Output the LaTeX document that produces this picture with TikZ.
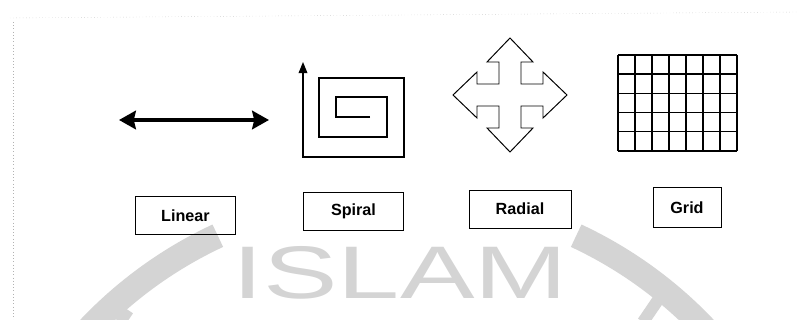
\documentclass[tikz,border=0pt]{standalone}
\usepackage{fontspec}
\setmainfont{Liberation Sans}
\usepackage{tikz}
\usetikzlibrary{arrows.meta, positioning}

\begin{document}
\begin{tikzpicture}[
    x=0.025cm, y=-0.025cm,
    tag/.style={rectangle, draw=black, line width=0.6pt, inner sep=0pt, text centered, font=\fontsize{11.5}{13}\selectfont\bfseries},
    bigarrow/.style={line width=2.8pt, {Stealth[length=0.42cm,width=0.46cm,inset=0.05cm]}-{Stealth[length=0.42cm,width=0.46cm,inset=0.05cm]}},
    spiralline/.style={line width=0.8pt, line join=miter, -{Triangle[length=0.28cm,width=0.22cm]}},
    outline/.style={line width=0.7pt, line join=miter},
    gridline/.style={line width=1pt},
    watermark/.style={black!17},
    scanedge/.style={black!30, line width=0.3pt, dotted}
]
\useasboundingbox (0,0) rectangle (798,320);

% Page edge of the scan
\draw [scanedge] (10,18) -- (798,12);
\draw [scanedge] (13,22) -- (13,320);

% Watermark
\node (wmtext) [watermark, xscale=1.5, font=\fontsize{53}{60}\selectfont] at (400,273) {ISLAM};
\draw [watermark, line width=0.62cm] (397,620) ++(222:424) arc[start angle=222, end angle=245, radius=424];
\draw [watermark, line width=0.62cm] (397,620) ++(318:424) arc[start angle=318, end angle=295, radius=424];
\draw [watermark, line width=0.3cm] (120,322) -- (128,310);
\draw [watermark, line width=0.3cm] (643,322) -- (660,297);

% Linear
\coordinate (linL) at (119,120);
\coordinate (linR) at (269,120);
\draw [bigarrow] (linL) -- (linR);

% Spiral
\coordinate (spin) at (370,117);
\coordinate (spout) at (303,62);
\draw [spiralline] (spin) -- (336,117) -- (336,97) -- (387,97) -- (387,137) -- (319,137) -- (319,78) -- (404,78) -- (404,157) -- (303,157) -- (spout);

% Radial
\begin{scope}[shift={(510,95)}]
\draw [outline] (0,-57) -- (23,-33) -- (11,-33) -- (11,-11) -- (33,-11) -- (33,-23) -- (57,0) -- (33,23) -- (33,11) -- (11,11) -- (11,33) -- (23,33) -- (0,57) -- (-23,33) -- (-11,33) -- (-11,11) -- (-33,11) -- (-33,23) -- (-57,0) -- (-33,-23) -- (-33,-11) -- (-11,-11) -- (-11,-33) -- (-23,-33) -- cycle;
\end{scope}

% Grid
\foreach \i in {0,...,7}
    \draw [gridline] (618+17*\i,55) -- (618+17*\i,151);
\foreach \j in {0,...,5}
    \draw [gridline] (618,55+19.2*\j) -- (737,55+19.2*\j);

% Labels
\node (linear) [tag, minimum width=2.5cm, minimum height=0.95cm] at (185.5,215.5) {Linear};
\node (spiral) [tag, minimum width=2.52cm, minimum height=0.93cm] at (353.5,211.5) {Spiral};
\node (radial) [tag, minimum width=2.55cm, minimum height=0.95cm] at (520,209) {Radial};
\node (grid) [tag, minimum width=1.7cm, minimum height=0.98cm] at (687,207.5) {Grid};

\end{tikzpicture}
\end{document}
